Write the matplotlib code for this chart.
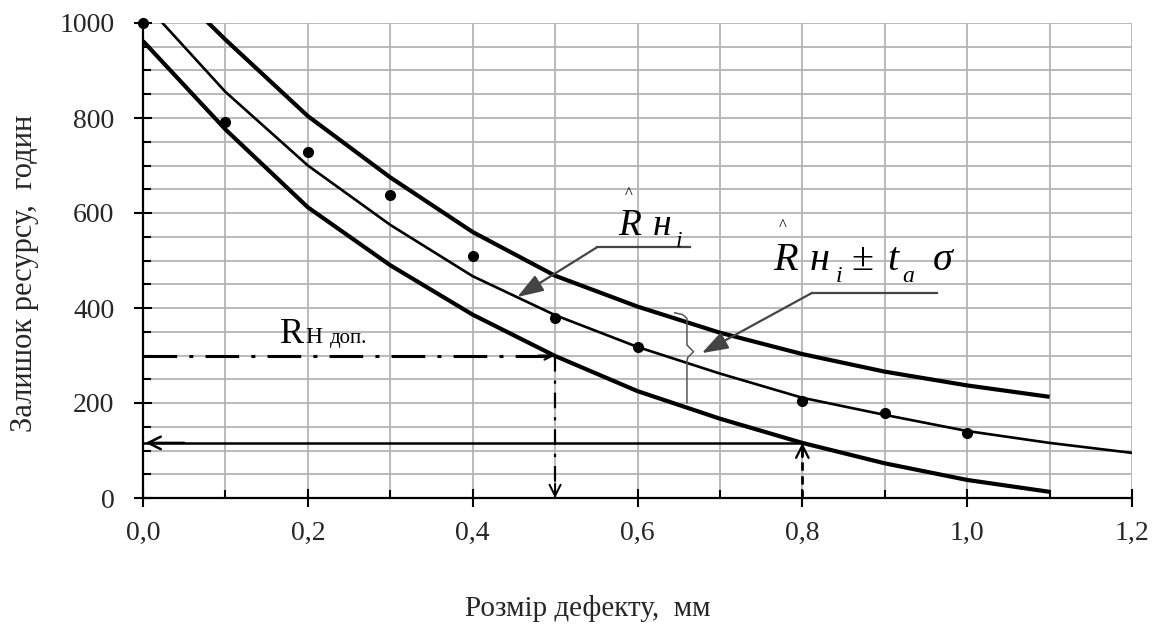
import matplotlib as mpl
mpl.use('agg')
import matplotlib.pyplot as plt
from matplotlib.ticker import MultipleLocator, FuncFormatter

# ---------------- data ----------------
x_obs = [0.0, 0.1, 0.2, 0.3, 0.4, 0.5, 0.6, 0.8, 0.9, 1.0]
r_obs = [1000, 792, 729, 638, 509, 380, 317, 204, 180, 136]

x_mid = [0.0, 0.1, 0.2, 0.3, 0.4, 0.5, 0.6, 0.7, 0.8, 0.9, 1.0, 1.1, 1.2]
r_mid = [1045, 855, 700, 575, 467, 385, 318, 262, 211, 175, 141, 116, 95]

x_up = [0.05, 0.1, 0.2, 0.3, 0.4, 0.5, 0.6, 0.7, 0.8, 0.9, 1.0, 1.1]
r_up = [1050, 965, 804, 675, 560, 468, 403, 348, 303, 266, 237, 213]

x_low = [0.0, 0.1, 0.2, 0.3, 0.4, 0.5, 0.6, 0.7, 0.8, 0.9, 1.0, 1.1]
r_low = [962, 776, 612, 490, 386, 299, 225, 167, 116, 73, 38, 13]

r_allowed = 300      # RН доп.
d_allowed = 0.5      # defect size giving RН доп.
d_current = 0.8      # measured defect
r_left = 116         # remaining resource for d_current

plt.rcParams['font.family'] = ['Liberation Serif', 'DejaVu Serif']

fig = plt.figure(figsize=(11.59, 6.26), dpi=100)
ax = fig.add_axes([143 / 1159, 128 / 626, 989 / 1159, 475 / 626])

ax.set_xlim(0, 1.2)
ax.set_ylim(0, 1000)

# grid
ax.xaxis.set_major_locator(MultipleLocator(0.2))
ax.xaxis.set_minor_locator(MultipleLocator(0.1))
ax.yaxis.set_major_locator(MultipleLocator(200))
ax.yaxis.set_minor_locator(MultipleLocator(50))
ax.grid(True, which='both', color='#b4b4b4', lw=1.3, zorder=0)
ax.set_axisbelow(True)

for s in ['top', 'right']:
    ax.spines[s].set_visible(False)
for s in ['left', 'bottom']:
    ax.spines[s].set_linewidth(1.6)

ax.tick_params(which='major', direction='inout', length=13, width=1.5,
               labelsize=20, colors='black', labelcolor='#262626')
ax.tick_params(axis='y', which='major', pad=14)
ax.tick_params(axis='x', which='major', pad=10)
ax.tick_params(which='minor', direction='in', length=6, width=1.5)
ax.xaxis.set_major_formatter(FuncFormatter(lambda v, p: f'{v:.1f}'.replace('.', ',')))
ax.yaxis.set_major_formatter(FuncFormatter(lambda v, p: f'{v:.0f}'))

# curves
ax.plot(x_up, r_up, color='black', lw=3.0, solid_capstyle='butt', zorder=3)
ax.plot(x_low, r_low, color='black', lw=3.0, solid_capstyle='butt', zorder=3)
ax.plot(x_mid, r_mid, color='black', lw=1.9, zorder=3)
ax.plot(x_obs, r_obs, 'o', color='black', ms=7, clip_on=False, zorder=4)

# RН доп. -> allowed defect
ax.plot([0, d_allowed], [r_allowed, r_allowed], color='black', lw=2.2,
        linestyle=(0, (11, 4, 1.3, 4)), zorder=3)
ax.annotate('', xy=(d_allowed, r_allowed), xytext=(d_allowed - 0.02, r_allowed),
            arrowprops=dict(arrowstyle='->,head_length=0.6,head_width=0.3', lw=1.5,
                            shrinkA=0, shrinkB=0, color='black'))
ax.plot([d_allowed, d_allowed], [r_allowed, 0], color='black', lw=1.6,
        linestyle=(0, (7, 4, 1.5, 4)), zorder=3)
ax.annotate('', xy=(d_allowed, 0), xytext=(d_allowed, 30),
            arrowprops=dict(arrowstyle='->,head_length=0.8,head_width=0.4', lw=1.4,
                            shrinkA=0, shrinkB=0, color='black'))

# measured defect -> remaining resource
ax.plot([0, d_current], [r_left, r_left], color='black', lw=1.8, zorder=3)
ax.annotate('', xy=(0.003, r_left), xytext=(0.05, r_left),
            arrowprops=dict(arrowstyle='->,head_length=0.9,head_width=0.45', lw=1.8,
                            shrinkA=0, shrinkB=0, color='black'))
ax.plot([d_current, d_current], [0, r_left], color='black', lw=2.0,
        linestyle=(0, (3, 2)), zorder=3)
ax.annotate('', xy=(d_current, r_left), xytext=(d_current, r_left - 30),
            arrowprops=dict(arrowstyle='->,head_length=0.9,head_width=0.45', lw=1.6,
                            shrinkA=0, shrinkB=0, color='black'))

# text RН доп.
ax.text(0.166, 326, 'R', fontsize=26, va='baseline')
ax.text(0.197, 326, 'Н', fontsize=17, va='baseline')
ax.text(0.227, 326, 'доп.', fontsize=15, va='baseline')

# label pieces: (text, x, y, size, italic)
label_mean = [('R', 0.577, 554, 27, True), ('н', 0.618, 554, 27, True),
              ('i', 0.646, 528, 17, True), ('^', 0.584, 632, 12, False)]
label_band = [('R', 0.765, 480, 29, True), ('н', 0.809, 480, 29, True),
              ('i', 0.840, 455, 17, True), ('±', 0.860, 480, 29, False),
              ('t', 0.903, 480, 29, True), ('a', 0.921, 455, 17, True),
              ('σ', 0.958, 480, 29, True), ('^', 0.772, 564, 12, False)]
for s, x, y, size, it in label_mean + label_band:
    ax.text(x, y, s, fontsize=size, va='baseline',
            style='italic' if it else 'normal', zorder=6)

# leader of the mean curve
ax.plot([0.664, 0.551], [528, 528], color='#444444', lw=1.6, zorder=5)
ax.annotate('', xy=(0.454, 423), xytext=(0.551, 528),
            arrowprops=dict(arrowstyle='-|>,head_length=1.6,head_width=0.55', lw=1.6,
                            shrinkA=0, shrinkB=0, color='#444444'))

# leader of the confidence band
ax.plot([0.964, 0.812], [432, 432], color='#444444', lw=1.6, zorder=5)
ax.annotate('', xy=(0.678, 305), xytext=(0.812, 432),
            arrowprops=dict(arrowstyle='-|>,head_length=1.6,head_width=0.55', lw=1.6,
                            shrinkA=0, shrinkB=0, color='#444444'))

# brace
ax.plot([0.645, 0.655, 0.660, 0.660, 0.668, 0.661, 0.660, 0.660],
        [390, 386, 378, 322, 308, 296, 288, 200], color='#555555', lw=1.1, zorder=4)

# axis titles
fig.text(588 / 1159, 1 - 608 / 626, 'Розмір дефекту,  мм', fontsize=21,
         ha='center', va='center', color='#262626')
fig.text(25 / 1159, 1 - 273 / 626, 'Залишок ресурсу,  годин', fontsize=22,
         ha='center', va='center', rotation=90, color='#262626')

fig.savefig('out.png', dpi=100)
